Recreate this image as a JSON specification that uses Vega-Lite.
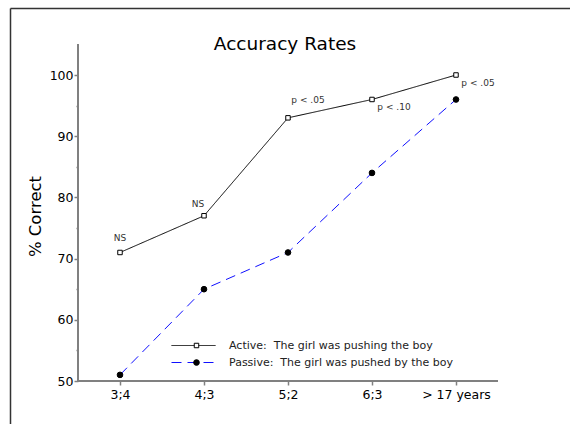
{
  "$schema": "https://vega.github.io/schema/vega-lite/v6.json",
  "width": 570,
  "height": 424,
  "autosize": {"type": "fit", "contains": "padding"},
  "padding": {"left": 10, "top": 8, "right": 0, "bottom": 0},
  "background": "white",
  "config": {
    "view": {"stroke": null},
    "font": "DejaVu Sans",
    "axis": {"grid": false, "labelFont": "DejaVu Sans", "titleFont": "DejaVu Sans"}
  },
  "title": {
    "text": "Accuracy Rates",
    "font": "DejaVu Sans",
    "fontSize": 18.5,
    "fontWeight": "normal",
    "color": "black",
    "anchor": "middle",
    "baseline": "middle",
    "offset": -54,
    "dx": -5
  },
  "data": {
    "values": [
      {"age": "3;4", "idx": 1, "series": "Active", "value": 71, "note": "NS"},
      {"age": "4;3", "idx": 2, "series": "Active", "value": 77, "note": "NS"},
      {"age": "5;2", "idx": 3, "series": "Active", "value": 93, "note": "p < .05"},
      {"age": "6;3", "idx": 4, "series": "Active", "value": 96, "note": "p < .10"},
      {"age": "> 17 years", "idx": 5, "series": "Active", "value": 100, "note": "p < .05"},
      {"age": "3;4", "idx": 1, "series": "Passive", "value": 51},
      {"age": "4;3", "idx": 2, "series": "Passive", "value": 65},
      {"age": "5;2", "idx": 3, "series": "Passive", "value": 71},
      {"age": "6;3", "idx": 4, "series": "Passive", "value": 84},
      {"age": "> 17 years", "idx": 5, "series": "Passive", "value": 96}
    ]
  },
  "layer": [
    {
      "mark": {"type": "rule", "color": "#808080", "strokeWidth": 2},
      "encoding": {
        "x": {"datum": 0.5, "type": "quantitative",
          "scale": {"domain": [-0.30952, 6.35714], "nice": false, "zero": false},
          "axis": {"orient": "top", "offset": 0, "domain": true, "domainColor": "#333333", "domainWidth": 1.5, "ticks": false, "labels": false, "title": null}},
        "y": {"datum": 50, "type": "quantitative",
          "scale": {"domain": [42.974, 110.948], "nice": false, "zero": false},
          "axis": {"orient": "left", "offset": 0, "domain": true, "domainColor": "#333333", "domainWidth": 1.5, "ticks": false, "labels": false, "title": null}},
        "y2": {"datum": 105}
      }
    },
    {
      "mark": {"type": "rule", "color": "#808080", "strokeWidth": 2},
      "encoding": {
        "x": {"datum": 0.5, "type": "quantitative", "axis": null},
        "x2": {"datum": 5.5},
        "y": {"datum": 50, "type": "quantitative",
          "axis": {"orient": "left", "offset": -68, "domain": false, "values": [55, 65, 75, 85, 95], "ticks": true, "tickSize": 2, "tickColor": "#808080", "tickWidth": 1.5, "labels": false, "title": null}}
      }
    },
    {
      "mark": {"type": "line", "strokeWidth": 1},
      "encoding": {
        "x": {"field": "idx", "type": "quantitative",
          "axis": {"orient": "bottom", "offset": -43, "domain": false, "values": [1, 2, 3, 4, 5],
            "labelExpr": "['3;4','4;3','5;2','6;3','> 17 years'][datum.value - 1]",
            "tickSize": 4, "tickColor": "#808080", "tickWidth": 1.5, "labelFontSize": 12.5, "labelColor": "black", "labelPadding": 3, "title": null}},
        "y": {"field": "value", "type": "quantitative",
          "axis": {"orient": "left", "offset": -68, "domain": false, "values": [50, 60, 70, 80, 90, 100],
            "tickSize": 4, "tickColor": "#808080", "tickWidth": 1.5, "labelFontSize": 12.5, "labelColor": "black", "labelPadding": 1,
            "title": "% Correct", "titleFontSize": 16.5, "titleFontWeight": "normal", "titleColor": "black", "titlePadding": 6}},
        "color": {"field": "series", "type": "nominal",
          "scale": {"range": ["black", "#1010ff"]},
          "legend": {"orient": "none", "legendX": 161, "legendY": 331, "title": null, "padding": 0,
            "symbolType": "stroke", "symbolSize": 1936, "symbolStrokeWidth": 1, "clipHeight": 13, "rowPadding": 4,
            "labelOffset": 13, "labelFontSize": 11, "labelColor": "#222222", "labelFont": "DejaVu Sans", "labelLimit": 400,
            "labelExpr": "datum.label == 'Active' ? 'Active:\u00a0 The girl was pushing the boy' : 'Passive:\u00a0 The girl was pushed by the boy'"}},
        "strokeDash": {"field": "series", "type": "nominal",
          "scale": {"range": [[1, 0], [10, 6]]},
          "legend": {"orient": "none", "legendX": 161, "legendY": 331, "title": null, "padding": 0,
            "symbolType": "stroke", "symbolSize": 1936, "symbolStrokeWidth": 1, "clipHeight": 13, "rowPadding": 4,
            "labelOffset": 13, "labelFontSize": 11, "labelColor": "#222222", "labelFont": "DejaVu Sans", "labelLimit": 400,
            "labelExpr": "datum.label == 'Active' ? 'Active:\u00a0 The girl was pushing the boy' : 'Passive:\u00a0 The girl was pushed by the boy'"}}
      }
    },
    {
      "mark": {"type": "point", "strokeWidth": 1, "opacity": 1},
      "encoding": {
        "x": {"field": "idx", "type": "quantitative", "axis": null},
        "y": {"field": "value", "type": "quantitative", "axis": null},
        "shape": {"field": "series", "type": "nominal",
          "scale": {"domain": ["Active", "Passive"], "range": ["square", "circle"]},
          "legend": {"orient": "none", "legendX": 181, "legendY": 331, "title": null, "padding": 0,
            "clipHeight": 13, "rowPadding": 4, "labelExpr": "''", "labelFontSize": 11, "symbolStrokeWidth": 1}},
        "fill": {"field": "series", "type": "nominal",
          "scale": {"domain": ["Active", "Passive"], "range": ["white", "black"]},
          "legend": {"orient": "none", "legendX": 181, "legendY": 331, "title": null, "padding": 0,
            "clipHeight": 13, "rowPadding": 4, "labelExpr": "''", "labelFontSize": 11, "symbolStrokeWidth": 1}},
        "stroke": {"field": "series", "type": "nominal",
          "scale": {"domain": ["Active", "Passive"], "range": ["black", "black"]},
          "legend": {"orient": "none", "legendX": 181, "legendY": 331, "title": null, "padding": 0,
            "clipHeight": 13, "rowPadding": 4, "labelExpr": "''", "labelFontSize": 11, "symbolStrokeWidth": 1}},
        "size": {"field": "series", "type": "nominal",
          "scale": {"domain": ["Active", "Passive"], "range": [20, 32]},
          "legend": {"orient": "none", "legendX": 181, "legendY": 331, "title": null, "padding": 0,
            "clipHeight": 13, "rowPadding": 4, "labelExpr": "''", "labelFontSize": 11, "symbolStrokeWidth": 1}}
      }
    },
    {
      "transform": [{"filter": "datum.note && datum.idx == 1"}],
      "mark": {"type": "text", "fontSize": 9, "color": "#333333", "dx": 0, "dy": -14, "baseline": "middle", "align": "center"},
      "encoding": {
        "x": {"field": "idx", "type": "quantitative", "axis": null},
        "y": {"field": "value", "type": "quantitative", "axis": null},
        "text": {"field": "note"}
      }
    },
    {
      "transform": [{"filter": "datum.note && datum.idx == 2"}],
      "mark": {"type": "text", "fontSize": 9, "color": "#333333", "dx": -6, "dy": -12, "baseline": "middle", "align": "center"},
      "encoding": {
        "x": {"field": "idx", "type": "quantitative", "axis": null},
        "y": {"field": "value", "type": "quantitative", "axis": null},
        "text": {"field": "note"}
      }
    },
    {
      "transform": [{"filter": "datum.note && datum.idx == 3"}],
      "mark": {"type": "text", "fontSize": 9, "color": "#333333", "dx": 20, "dy": -18, "baseline": "middle", "align": "center"},
      "encoding": {
        "x": {"field": "idx", "type": "quantitative", "axis": null},
        "y": {"field": "value", "type": "quantitative", "axis": null},
        "text": {"field": "note"}
      }
    },
    {
      "transform": [{"filter": "datum.note && datum.idx >= 4"}],
      "mark": {"type": "text", "fontSize": 9, "color": "#333333", "dx": 22, "dy": 8, "baseline": "middle", "align": "center"},
      "encoding": {
        "x": {"field": "idx", "type": "quantitative", "axis": null},
        "y": {"field": "value", "type": "quantitative", "axis": null},
        "text": {"field": "note"}
      }
    }
  ],
  "resolve": {"axis": {"x": "independent", "y": "independent"}}
}
